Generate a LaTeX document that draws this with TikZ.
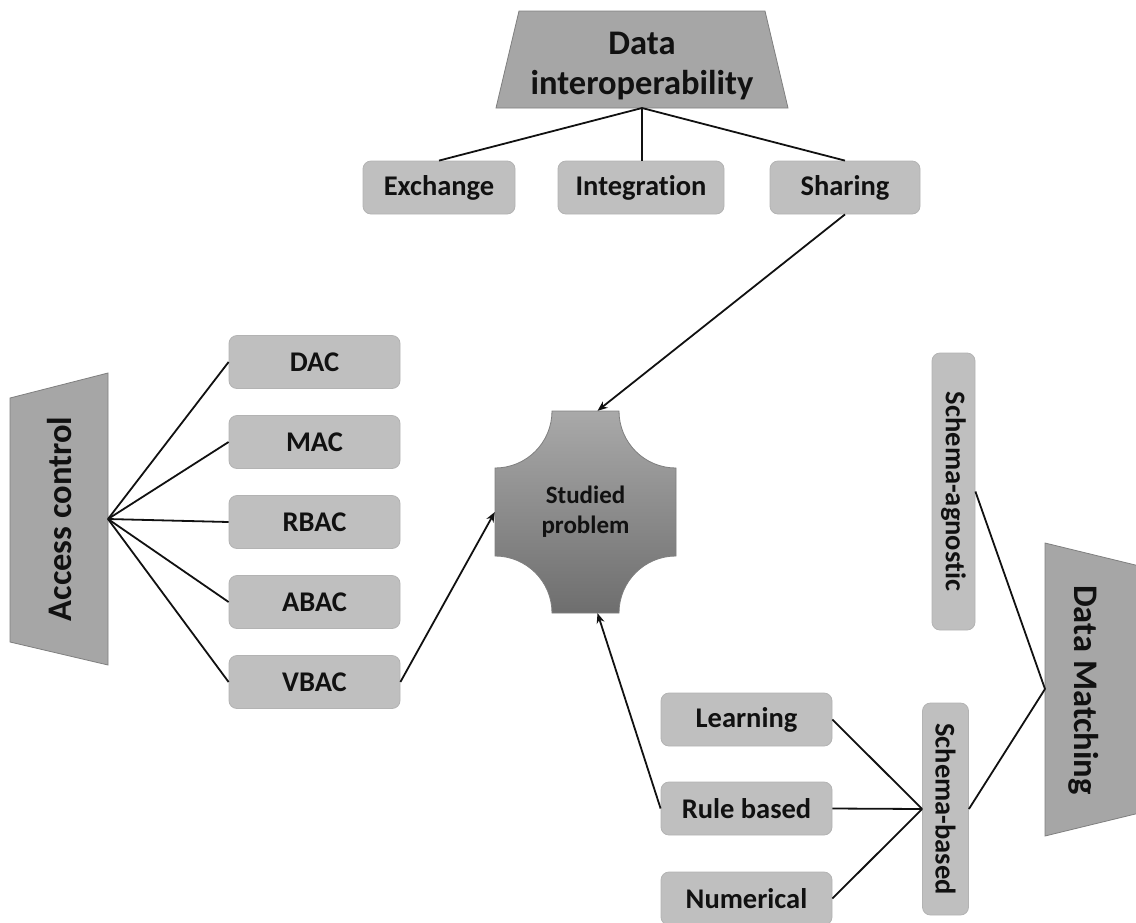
\documentclass[tikz,border=0pt]{standalone}
\usepackage{fontspec}
\setmainfont{Carlito}[Ligatures=NoCommon]
\usetikzlibrary{arrows.meta,calc}
\definecolor{boxfill}{HTML}{BFBFBF}
\definecolor{boxline}{HTML}{B3B3B3}
\definecolor{trapfill}{HTML}{A6A6A6}
\definecolor{trapline}{HTML}{7F7F7F}
\definecolor{sptop}{HTML}{A9A9A9}
\definecolor{spbot}{HTML}{6E6E6E}
\definecolor{ink}{HTML}{111111}
\begin{document}
\begin{tikzpicture}[x=1pt,y=-1pt,
  box/.style={draw=boxline, fill=boxfill, rounded corners=8pt, line width=0.8pt, inner sep=0pt,
    text=ink, font=\fontsize{28.5}{33}\selectfont\bfseries},
  hbox/.style={box, minimum width=171pt, minimum height=53pt},
  vbox/.style={box, rotate=-90, minimum height=43pt},
  trap/.style={fill=trapfill, draw=trapline, line width=0.8pt},
  title/.style={font=\fontsize{34.5}{40}\selectfont\bfseries, text=ink, align=center, inner sep=0pt},
  link/.style={draw=ink, line width=1.8pt},
  arr/.style={link, -{Stealth[length=10pt,width=8pt]}}]
\useasboundingbox (0,0) rectangle (1136,922);
\clip (0,0) rectangle (1136,922);

% Data interoperability trapezoid
\path[trap] (519,11) -- (765,11) -- (788,108) -- (496,108) -- cycle;
\node[title] (di) at (642,66) {Data\\interoperability};
\coordinate (difan) at (642,108);

% Access control trapezoid
\path[trap] (10,398) -- (108,373) -- (108,665) -- (10,642) -- cycle;
\node[title, rotate=90] (ac) at (60,519) {Access control};
\coordinate (acfan) at (108,519);

% Data Matching trapezoid
\path[trap] (1045,543) -- (1160,571) -- (1160,808) -- (1045,836) -- cycle;
\node[title, rotate=-90] (dm) at (1084,690) {Data Matching};
\coordinate (dmfan) at (1045,689);

% Studied problem shape
\path[draw=trapline, line width=0.8pt, top color=sptop, bottom color=spbot]
  (552,411) -- (619,411) .. controls (619,442.5) and (644.5,468) .. (676,468)
  -- (676,556) .. controls (644.5,556) and (619,581.5) .. (619,613)
  -- (552,613) .. controls (552,581.5) and (526.5,556) .. (495,556)
  -- (495,468) .. controls (526.5,468) and (552,442.5) .. (552,411) -- cycle;
\node[minimum width=181pt, minimum height=202pt, inner sep=0pt, align=center, text=ink,
  font=\fontsize{25}{30}\selectfont\bfseries] (sp) at (585.5,512) {Studied\\problem};

% Top boxes
\node[hbox, minimum width=152pt] (ex) at (439,187.5) {Exchange};
\node[hbox, minimum width=166pt] (in) at (641,187.5) {Integrat\kern0pt ion};
\node[hbox, minimum width=150pt] (sh) at (845,187.5) {Sharing};

% Left boxes
\node[hbox] (dac) at (314.5,362) {DAC};
\node[hbox] (mac) at (314.5,442) {MAC};
\node[hbox] (rbac) at (314.5,522) {RBAC};
\node[hbox] (abac) at (314.5,602) {ABAC};
\node[hbox] (vbac) at (314.5,682) {VBAC};

% Lower right boxes
\node[hbox] (lea) at (746.5,719.5) {Learning};
\node[hbox] (rul) at (746.5,808.5) {Rule based};
\node[hbox] (num) at (746.5,898.5) {Numerical};

% Vertical boxes
\node[vbox, minimum width=277pt] (sa) at (953.5,491.5) {Schema-agnostic};
\node[vbox, minimum width=212pt, minimum height=46pt] (sb) at (945.5,809) {Schema-based};

% Connectors
\draw[link] (difan) -- (ex.north);
\draw[link] (difan) -- (difan |- in.north);
\draw[link] (difan) -- (sh.north);

\foreach \n in {dac,mac,rbac,abac,vbac} \draw[link] (acfan) -- (\n.west);

\draw[link] (lea.east) -- (sb.south);
\draw[link] (rul.east) -- (sb.south);
\draw[link] (num.east) -- (sb.south);

\draw[link] (sa.north) -- (dmfan);
\draw[link] (sb.north) -- (dmfan);

\draw[arr] (sh.south) -- ($(sp.north)+(12,0)$);
\draw[arr] (vbac.east) -- (sp.west);
\draw[arr] (rul.west) -- ($(sp.south)+(12,0)$);
\end{tikzpicture}
\end{document}
